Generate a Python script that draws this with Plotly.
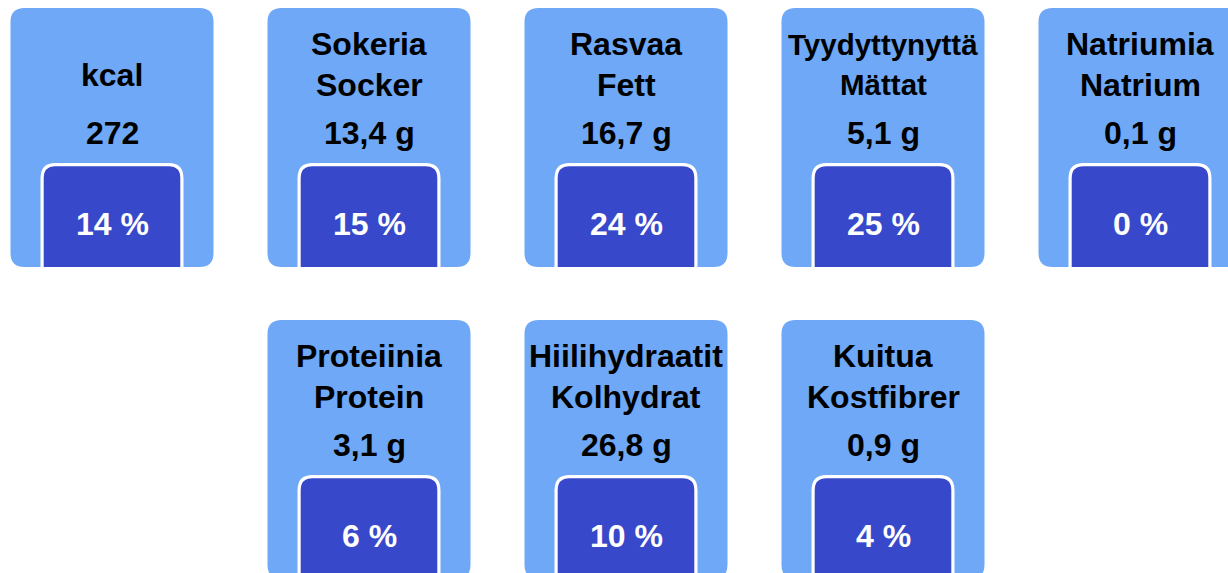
import plotly.graph_objects as go

# ---------------- data ----------------
names_fi = ["kcal", "Sokeria", "Rasvaa", "Tyydyttynyttä", "Natriumia",
            "Proteiinia", "Hiilihydraatit", "Kuitua"]
names_sv = ["", "Socker", "Fett", "Mättat", "Natrium",
            "Protein", "Kolhydrat", "Kostfibrer"]
amounts = [272, 13.4, 16.7, 5.1, 0.1, 3.1, 26.8, 0.9]
units = ["", "g", "g", "g", "g", "g", "g", "g"]
daily_pct = [14, 15, 24, 25, 0, 6, 10, 4]
grid_row = [0, 0, 0, 0, 0, 1, 1, 1]
grid_col = [0, 1, 2, 3, 4, 1, 2, 3]

# ---------------- layout / style ----------------
W, H = 1228, 573
X0, PX = 112, 257          # column centre of first column, column pitch
Y0, PY = 8, 312            # top of first row, row pitch
CARD_W, CARD_H, CARD_R = 203, 259, 14
BOX_TOP, BOX_HALF, BOX_R, BORDER = 155, 71.5, 15, 3.2
LIGHT = "#6EA8F6"
DARK = "#3848CB"
FONT = "Liberation Sans, Arial, Helvetica, sans-serif"
TITLE_SIZE = 32
TITLE_SIZE_OVERRIDE = {"Tyydyttynyttä": 29.5}
VALUE_SIZE = 32
PCT_SIZE = 32


def fmt_amount(v, u):
    s = f"{v:g}".replace(".", ",")
    return f"{s} {u}" if u else s


def rounded_path(x0, y0, x1, y1, r, round_bottom=True):
    # y grows downward (reversed axis): y0 = top, y1 = bottom
    p = f"M {x0 + r},{y0} L {x1 - r},{y0} Q {x1},{y0} {x1},{y0 + r} "
    if round_bottom:
        p += (f"L {x1},{y1 - r} Q {x1},{y1} {x1 - r},{y1} "
              f"L {x0 + r},{y1} Q {x0},{y1} {x0},{y1 - r} ")
    else:
        p += f"L {x1},{y1} L {x0},{y1} "
    p += f"L {x0},{y0 + r} Q {x0},{y0} {x0 + r},{y0} Z"
    return p


shapes = []
annotations = []

for i in range(len(names_fi)):
    cx = X0 + grid_col[i] * PX
    top = Y0 + grid_row[i] * PY
    left, right = cx - CARD_W / 2, cx + CARD_W / 2
    bottom = top + CARD_H

    # card
    shapes.append(dict(type="path", xref="x", yref="y", layer="below",
                       path=rounded_path(left, top, right, bottom, CARD_R),
                       fillcolor=LIGHT, line=dict(width=0)))
    # white frame of the percentage box
    shapes.append(dict(type="path", xref="x", yref="y", layer="below",
                       path=rounded_path(cx - BOX_HALF, top + BOX_TOP,
                                         cx + BOX_HALF, bottom, BOX_R,
                                         round_bottom=False),
                       fillcolor="white", line=dict(width=0)))
    # dark percentage box
    shapes.append(dict(type="path", xref="x", yref="y", layer="below",
                       path=rounded_path(cx - BOX_HALF + BORDER,
                                         top + BOX_TOP + BORDER,
                                         cx + BOX_HALF - BORDER, bottom,
                                         BOX_R - BORDER, round_bottom=False),
                       fillcolor=DARK, line=dict(width=0)))

    tsize = TITLE_SIZE_OVERRIDE.get(names_fi[i], TITLE_SIZE)
    tfont = dict(family=FONT, size=tsize, color="#000000", weight="bold")
    if names_sv[i]:
        lines = [(names_fi[i], top + 36), (names_sv[i], top + 76.5)]
    else:
        lines = [(names_fi[i], top + 67)]
    for txt, y in lines:
        annotations.append(dict(x=cx, y=y, xref="x", yref="y", text=txt,
                                showarrow=False, xanchor="center",
                                yanchor="middle", font=tfont))
    annotations.append(dict(x=cx, y=top + 125, xref="x", yref="y",
                            text=fmt_amount(amounts[i], units[i]),
                            showarrow=False, xanchor="center",
                            yanchor="middle",
                            font=dict(family=FONT, size=VALUE_SIZE,
                                      color="#000000", weight="bold")))
    annotations.append(dict(x=cx, y=top + 216, xref="x", yref="y",
                            text=f"{daily_pct[i]} %",
                            showarrow=False, xanchor="center",
                            yanchor="middle",
                            font=dict(family=FONT, size=PCT_SIZE,
                                      color="#FFFFFF", weight="bold")))

fig = go.Figure()
fig.add_trace(go.Scatter(x=[], y=[], showlegend=False))
fig.update_layout(
    width=W, height=H, autosize=False,
    margin=dict(l=0, r=0, t=0, b=0, pad=0),
    paper_bgcolor="white", plot_bgcolor="white",
    xaxis=dict(range=[0, W], visible=False, showgrid=False,
               zeroline=False, fixedrange=True),
    yaxis=dict(range=[H, 0], visible=False, showgrid=False,
               zeroline=False, fixedrange=True),
    shapes=shapes, annotations=annotations, showlegend=False,
)

fig.write_html("out.html", config={"displayModeBar": False, "staticPlot": True},
               post_script="document.body.style.margin='0';"
                           "document.body.style.overflow='hidden';")
